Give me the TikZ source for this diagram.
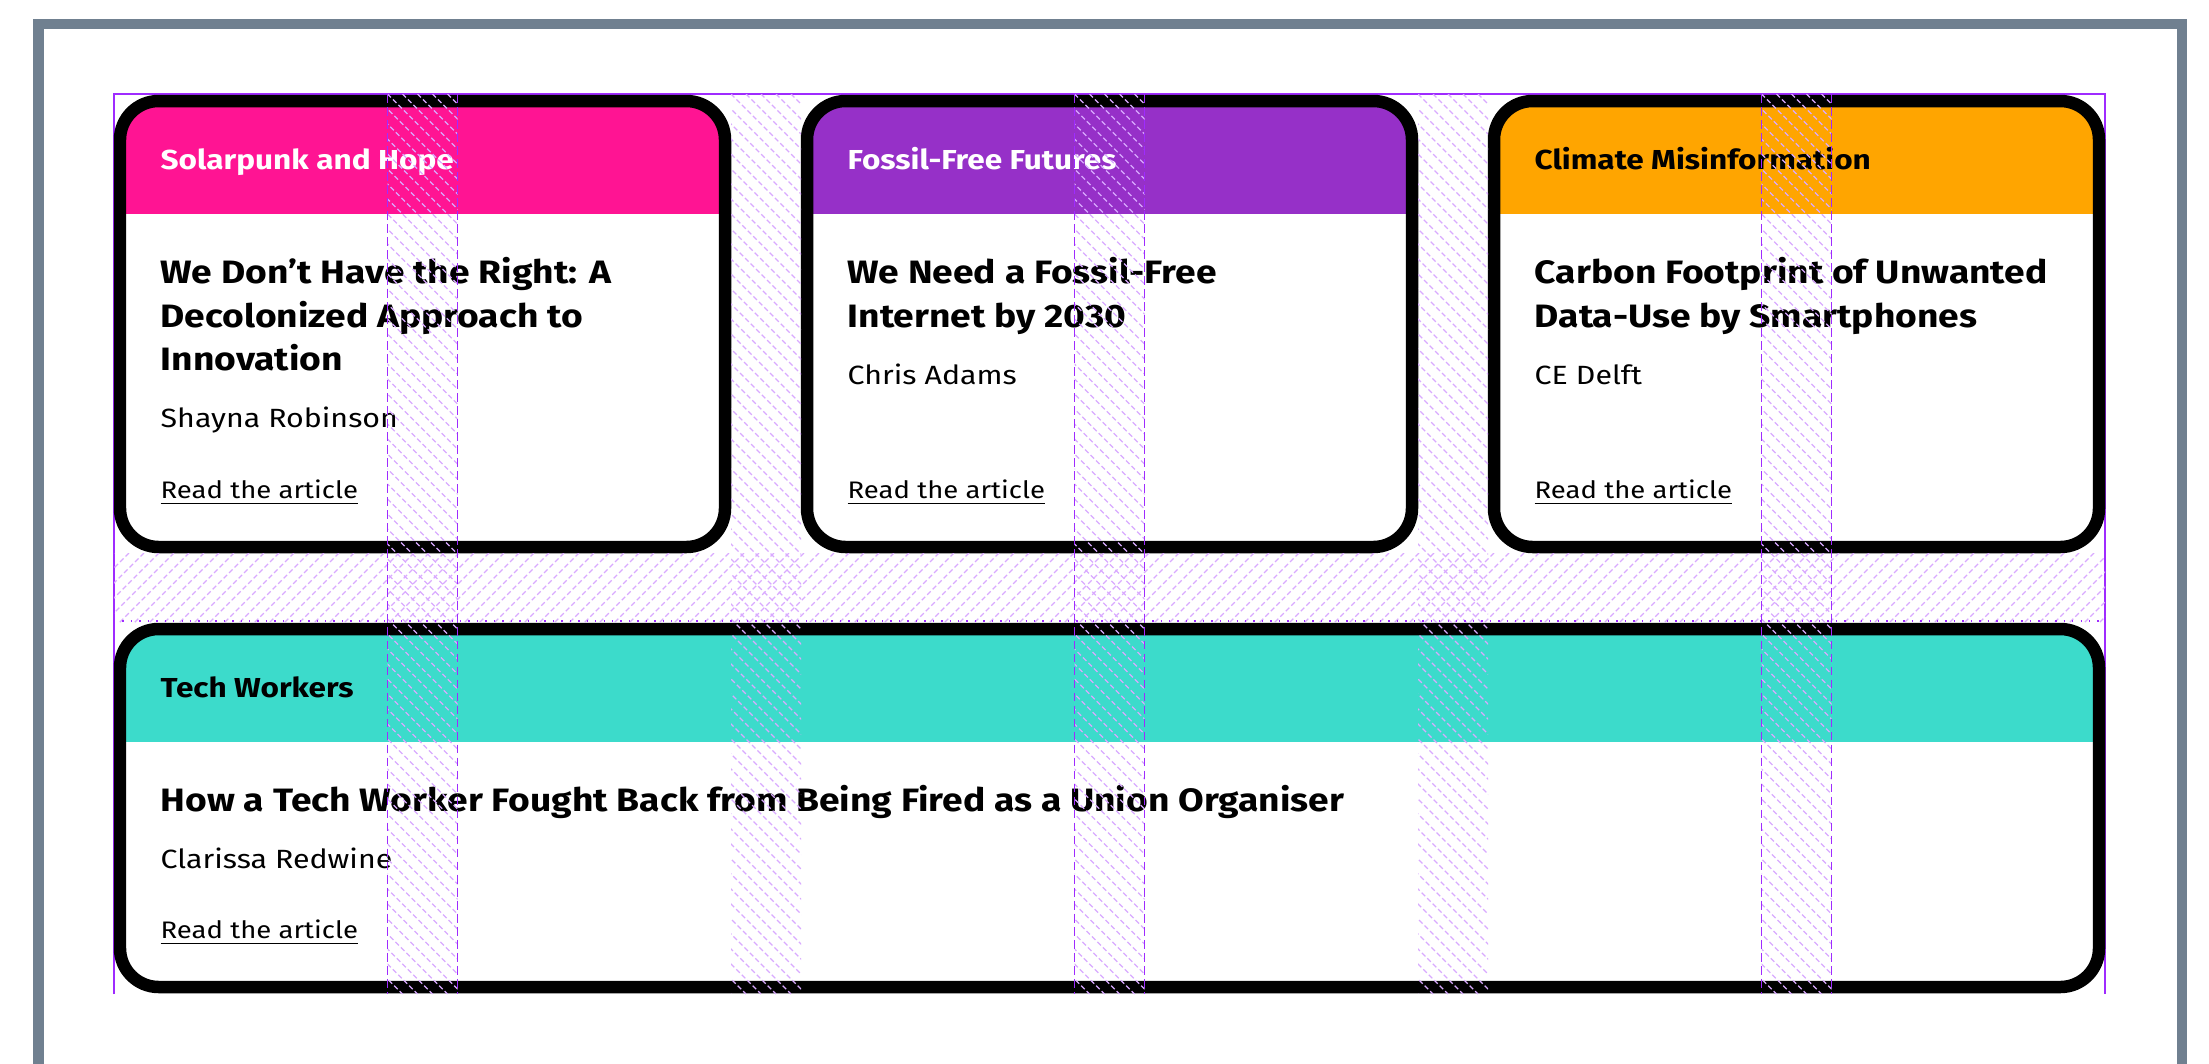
\documentclass[tikz,border=0pt]{standalone}
\usepackage{fontspec}
\setmainfont{Fira Sans}[FakeStretch=1.15]
\definecolor{framegray}{HTML}{708090}
\definecolor{gridviolet}{HTML}{9F2BFF}
\definecolor{solarpink}{HTML}{FF1493}
\definecolor{fossilpurple}{HTML}{9630C8}
\definecolor{climateorange}{HTML}{FFA500}
\definecolor{techteal}{HTML}{3CDBCB}
\tikzset{
  cardedge/.style={draw=black, line width=3.55pt, rounded corners=11pt},
  tagtext/.style={anchor=base west, inner sep=0pt, font=\bfseries\fontsize{7.8}{10}\selectfont},
  headtext/.style={anchor=base west, inner sep=0pt, font=\bfseries\fontsize{9.2}{12}\selectfont},
  authortext/.style={anchor=base west, inner sep=0pt, font=\fontsize{7.5}{9}\selectfont},
  linktext/.style={anchor=base west, inner sep=0pt, font=\fontsize{6.8}{8}\selectfont},
  hatchline/.style={draw=gridviolet!40, line width=0.38pt, dash pattern=on 1.4pt off 0.8pt},
  trackline/.style={draw=gridviolet, line width=0.5pt, dash pattern=on 2.5pt off 1.2pt},
}
\def\cardbox(#1,#2)(#3,#4)#5{%
  \begin{scope}
    \clip[rounded corners=11pt] (#1,#2) rectangle (#3,#4);
    \fill[white] (#1,#2) rectangle (#3,#4);
    \fill[#5] (#1,#2) rectangle (#3,#2+113);
  \end{scope}
  \draw[cardedge] (#1,#2) rectangle (#3,#4);}
\def\hatchcol#1{%
  \begin{scope}
    \clip (#1,94) rectangle (#1+70,994);
    \foreach \k in {-900,-885,...,70}
      {\draw[hatchline] (#1+\k,94) -- ++(900,900);}
  \end{scope}}

\begin{document}
\begin{tikzpicture}[x=0.01cm, y=-0.01cm]
			%%%%% START %%%%%
			\useasboundingbox (0,0) rectangle (2209,1063);
			
			\draw[framegray, line width=3.1pt] (38.5,1080) -- (38.5,24) -- (2182,24) -- (2182,1080);
			\draw[gridviolet, line width=0.6pt] (114,994) -- (114,94) -- (2105,94) -- (2105,994);
			
			\cardbox(120,101)(725,547){solarpink}
			\cardbox(807,101)(1412,547){fossilpurple}
			\cardbox(1494,101)(2099,547){climateorange}
			\cardbox(120,629)(2099,987){techteal}
			
			\node[tagtext, white] (tag1) at (160,169) {Solarpunk and Hope};
			\node[headtext] (head1a) at (160,283) {We Don’t Have the Right: A};
			\node[headtext] (head1b) at (160,327) {Decolonized Approach to};
			\node[headtext] (head1c) at (160,370) {Innovation};
			\node[authortext] (author1) at (160,427) {Shayna Robinson};
			\node[linktext] (link1) at (160,498) {\underline{Read the article}};
			
			\node[tagtext, white] (tag2) at (847,169) {Fossil-Free Futures};
			\node[headtext] (head2a) at (847,283) {We Need a Fossil-Free};
			\node[headtext] (head2b) at (847,327) {Internet by 2030};
			\node[authortext] (author2) at (847,384) {Chris Adams};
			\node[linktext] (link2) at (847,498) {\underline{Read the article}};
			
			\node[tagtext] (tag3) at (1534,169) {Climate Misinformation};
			\node[headtext] (head3a) at (1534,283) {Carbon Footprint of Unwanted};
			\node[headtext] (head3b) at (1534,327) {Data-Use by Smartphones};
			\node[authortext] (author3) at (1534,384) {CE Delft};
			\node[linktext] (link3) at (1534,498) {\underline{Read the article}};
			
			\node[tagtext] (tag4) at (160,697) {Tech Workers};
			\node[headtext] (head4) at (160,811) {How a Tech Worker Fought Back from Being Fired as a Union Organiser};
			\node[authortext] (author4) at (160,868) {Clarissa Redwine};
			\node[linktext] (link4) at (160,938) {\underline{Read the article}};
			
			\foreach \gx in {387.5,731,1074.5,1418,1761.5}
				{\hatchcol{\gx}}
			\begin{scope}
				\clip (114,553) rectangle (2105,623);
				\foreach \k in {114,129,...,2190}
					{\draw[hatchline] (\k,553) -- ++(-70,70);}
			\end{scope}
			\foreach \gx in {387.5,457.5,1074.5,1144.5,1761.5,1831.5}
				\draw[trackline] (\gx,94) -- (\gx,994);
			\draw[gridviolet, line width=0.4pt, dotted] (114,621) -- (2105,621);
			
			%%%%% END %%%%%
\end{tikzpicture}
\end{document}
